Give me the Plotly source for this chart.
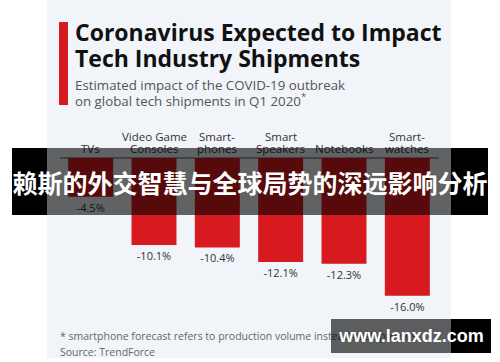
import plotly.graph_objects as go

# ---- data ----
categories = ["TVs", "Video Game Consoles", "Smartphones", "Smart Speakers", "Notebooks", "Smartwatches"]
label_top = ["", "Video Game", "Smart-", "Smart", "", "Smart-"]
label_bottom = ["TVs", "Consoles", "phones", "Speakers", "Notebooks", "watches"]
impact = [-4.5, -10.1, -10.4, -12.1, -12.3, -16.0]

title_lines = ["Coronavirus Expected to Impact", "Tech Industry Shipments"]
subtitle_lines = ["Estimated impact of the COVID-19 outbreak", "on global tech shipments in Q1 2020<sup>*</sup>"]
footnote = "* smartphone forecast refers to production volume instead of shipments"
source = "Source: TrendForce"
banner_text = "赖斯的外交智慧与全球局势的深远影响分析"
watermark_text = "www.lanxdz.com"

# ---- layout geometry (pixels) ----
W, H = 500, 362
ML, MR, MT, MB = 59, 61, 158, 52
PW, PH = W - ML - MR, H - MT - MB


def px(x):
    return (x - ML) / PW


def py(y):
    return (H - MB - y) / PH


RED = "#d71920"
CARD = "#f1f4f9"

fig = go.Figure()
fig.add_trace(go.Bar(
    x=categories, y=impact,
    marker=dict(color=RED, line=dict(width=0)),
    texttemplate="%{y:.1f}%", textposition="outside",
    textfont=dict(family="Open Sans", size=11, color="#333333"),
    cliponaxis=False, hoverinfo="skip",
))

shapes = [
    # card background
    dict(type="rect", xref="paper", yref="paper", x0=px(47), x1=px(451), y0=py(0), y1=py(358),
         fillcolor=CARD, line=dict(width=0), layer="below"),
    # red accent bar
    dict(type="rect", xref="paper", yref="paper", x0=px(59), x1=px(68), y0=py(22), y1=py(105),
         fillcolor=RED, line=dict(width=0), layer="below"),
    # axis line
    dict(type="line", xref="paper", yref="paper", x0=px(60), x1=px(439), y0=py(158), y1=py(158),
         line=dict(color="#555555", width=1), layer="below"),
    # black parts of overlays outside the card
    dict(type="rect", xref="paper", yref="paper", x0=px(12), x1=px(47), y0=py(148), y1=py(215),
         fillcolor="black", line=dict(width=0), layer="above"),
    dict(type="rect", xref="paper", yref="paper", x0=px(451), x1=px(488), y0=py(148), y1=py(215),
         fillcolor="black", line=dict(width=0), layer="above"),
    dict(type="rect", xref="paper", yref="paper", x0=px(451), x1=px(491), y0=py(319), y1=py(353),
         fillcolor="black", line=dict(width=0), layer="above"),
]

ann = []
# title / subtitle
for t, yc in zip(title_lines, [32, 58]):
    ann.append(dict(text=f"<b>{t}</b>", x=px(73), y=py(yc), xref="paper", yref="paper",
                    xanchor="left", yanchor="middle", showarrow=False,
                    font=dict(family="Open Sans", size=23, color="#111111")))
for t, yc in zip(subtitle_lines, [85, 100]):
    ann.append(dict(text=t, x=px(73), y=py(yc), xref="paper", yref="paper",
                    xanchor="left", yanchor="middle", showarrow=False,
                    font=dict(family="Open Sans", size=13.3, color="#555555")))
# category labels
for c, t1, t2 in zip(categories, label_top, label_bottom):
    if t1:
        ann.append(dict(text=t1, x=c, y=py(136), xref="x", yref="paper", xanchor="center",
                        yanchor="middle", showarrow=False,
                        font=dict(family="Open Sans", size=11.5, color="#333333")))
    ann.append(dict(text=t2, x=c, y=py(148), xref="x", yref="paper", xanchor="center",
                    yanchor="middle", showarrow=False,
                    font=dict(family="Open Sans", size=11.5, color="#333333")))
# footnotes
ann.append(dict(text=footnote, x=px(58), y=py(336), xref="paper", yref="paper", xanchor="left",
                yanchor="middle", showarrow=False,
                font=dict(family="Open Sans", size=10.5, color="#666666")))
ann.append(dict(text=source, x=px(58), y=py(352), xref="paper", yref="paper", xanchor="left",
                yanchor="middle", showarrow=False,
                font=dict(family="Open Sans", size=10.5, color="#666666")))
# overlay banner
ann.append(dict(text=f"<b>{banner_text}</b>", x=px(250), y=py(181.5), xref="paper", yref="paper",
                xanchor="center", yanchor="middle", showarrow=False,
                width=476, height=67, borderpad=0, borderwidth=0,
                bgcolor="rgba(0,0,0,0.6)",
                font=dict(family="Noto Sans CJK SC", size=25, color="white")))
# watermark
ann.append(dict(text=f"<b>{watermark_text}</b>", x=px(411), y=py(336), xref="paper", yref="paper",
                xanchor="center", yanchor="middle", showarrow=False,
                width=160, height=34, borderpad=0, borderwidth=0,
                bgcolor="rgba(0,0,0,0.62)",
                font=dict(family="Liberation Sans", size=18, color="white")))

fig.update_layout(
    width=W, height=H,
    margin=dict(l=ML, r=MR, t=MT, b=MB, pad=0),
    paper_bgcolor="white", plot_bgcolor="rgba(0,0,0,0)",
    bargap=0.29, showlegend=False,
    xaxis=dict(showticklabels=False, showgrid=False, zeroline=False, showline=False,
               fixedrange=True),
    yaxis=dict(range=[-17.67, 0], showticklabels=False, showgrid=False, zeroline=False,
               showline=False, fixedrange=True),
    shapes=shapes, annotations=ann,
)

fig.write_html("out.html", post_script="document.body.style.margin='0';",
               config={"displayModeBar": False})
